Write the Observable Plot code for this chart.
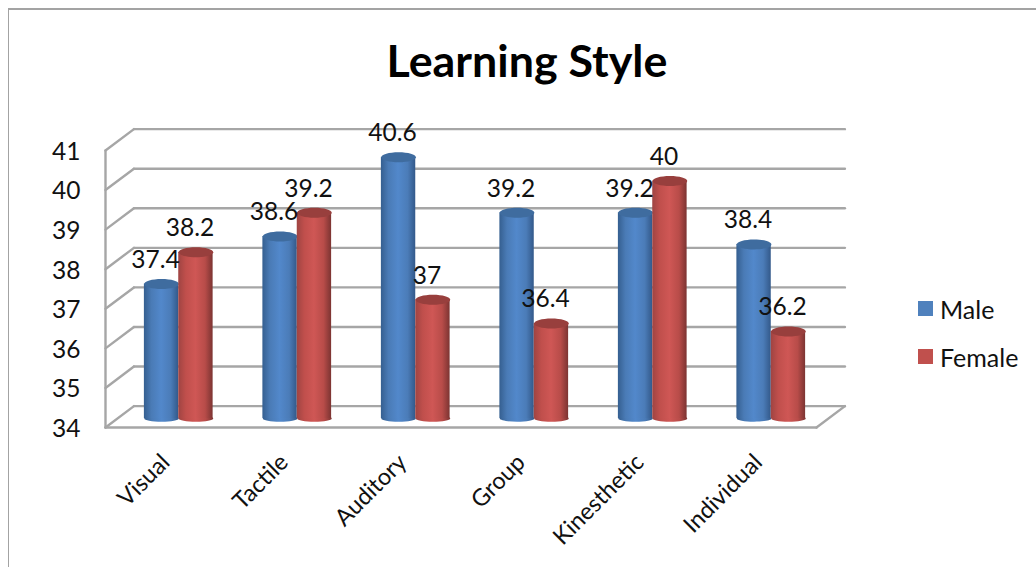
<!DOCTYPE html>
<html>
<head>
<meta charset="utf-8">
<script src="https://cdn.jsdelivr.net/npm/d3@7"></script>
<script src="https://cdn.jsdelivr.net/npm/@observablehq/plot@0.6"></script>
<style>
  html, body { margin: 0; padding: 0; background: #fff; overflow: hidden; font-family: Lato, sans-serif; color: #111; }
  #page { position: relative; width: 1036px; height: 567px; }
  #edge { position: absolute; left: 8px; top: 8px; right: 0; bottom: 0; border-left: 1.5px solid #a3a3a3; border-top: 2px solid #a3a3a3; }
  #title { position: absolute; left: 0; width: 1054px; top: 35px; text-align: center; font-size: 44.8px; font-weight: 700; line-height: 50px; color: #000; }
  #chart { position: absolute; left: 0; top: 0; }
  .key { position: absolute; left: 918px; font-size: 25px; line-height: 28px; height: 28px; }
  .key i { position: absolute; left: 0; top: 6px; width: 15px; height: 15px; }
  .key span { position: absolute; left: 22px; top: 0; }
</style>
</head>
<body>
<div id="page">
  <div id="edge"></div>
  <div id="chart"></div>
  <div id="title">Learning Style</div>
  <div class="key" style="top:295px"><i style="background:#4f81bd"></i><span>Male</span></div>
  <div class="key" style="top:343px"><i style="background:#c0504d"></i><span>Female</span></div>
</div>
<script>
const categories = ["Visual", "Tactile", "Auditory", "Group", "Kinesthetic", "Individual"];
const male = [37.4, 38.6, 40.6, 39.2, 39.2, 38.4];
const female = [38.2, 39.2, 37, 36.4, 40, 36.2];
const yTicks = [34, 35, 36, 37, 38, 39, 40, 41];

// Oblique depth of the 3D box, in data units of each scale
const depthX = 0.24, depthY = 0.54;
const barW = 0.29;

const ellipse = (rx, ry) => ({
  draw(c) {
    const k = 0.5523;
    c.moveTo(-rx, 0);
    c.bezierCurveTo(-rx, -ry * k, -rx * k, -ry, 0, -ry);
    c.bezierCurveTo(rx * k, -ry, rx, -ry * k, rx, 0);
    c.bezierCurveTo(rx, ry * k, rx * k, ry, 0, ry);
    c.bezierCurveTo(-rx * k, ry, -rx, ry * k, -rx, 0);
    c.closePath();
  }
});

const cylinders = (values, offset, body, cap) => {
  const rows = values.map((v, i) => ({v, i, c: i + 0.5 + offset}));
  const bar = {dx: 14, dy: -9};
  return [
    Plot.dot(rows, {x: "c", y: () => 34, r: 1, symbol: ellipse(17.3, 3.2), fill: `url(#${body})`, ...bar}),
    Plot.rect(rows, {x1: d => d.c - barW / 2, x2: d => d.c + barW / 2, y1: () => 34, y2: "v", fill: `url(#${body})`, ...bar}),
    Plot.dot(rows, {x: "c", y: "v", r: 1, symbol: ellipse(17.3, 5), fill: cap, ...bar})
  ];
};

const valueLabels = (values, offset) => Plot.text(values, {
  x: (v, i) => i + 0.5 + offset, y: v => v, text: v => String(v),
  dx: 8, dy: -33, fontSize: 24.5, fill: "#111"
});

const wall = {stroke: "#a6a6a6", strokeWidth: 2.4, strokeLinecap: "round"};

const chart = Plot.plot({
  width: 1036, height: 567,
  marginLeft: 105, marginRight: 220, marginTop: 150, marginBottom: 140,
  style: {background: "transparent", fontFamily: "Lato, sans-serif", color: "#111", overflow: "visible"},
  x: {domain: [0, 6], axis: null},
  y: {domain: [34, 41], ticks: yTicks, axis: null},
  marks: [
    // back wall
    Plot.link(yTicks, {x1: () => depthX, x2: () => 6 + depthX, y1: v => v + depthY, y2: v => v + depthY, ...wall}),
    // side wall
    Plot.link(yTicks, {x1: () => 0, x2: () => depthX, y1: v => v, y2: v => v + depthY, ...wall}),
    Plot.link([0], {x1: () => 0, x2: () => 0, y1: () => 34, y2: () => 41, ...wall}),
    // floor
    Plot.link([0], {x1: () => 0, x2: () => 6, y1: () => 34, y2: () => 34, ...wall}),
    Plot.link([0], {x1: () => 6, x2: () => 6 + depthX, y1: () => 34, y2: () => 34 + depthY, ...wall}),
    Plot.axisY({ticks: yTicks, tickFormat: "d", tickSize: 0, tickPadding: 25, fontSize: 24.5, label: null, dy: 1.5, fill: "#111"}),
    Plot.text(categories, {
      x: (d, i) => i + 0.5, y: () => 34, text: d => d, rotate: -45, textAnchor: "end",
      dx: 1, dy: 31, fontSize: 23.5, fill: "#111"
    }),
    ...cylinders(male, -barW / 2, "gBlue", "#3f6c9f"),
    ...cylinders(female, barW / 2, "gRed", "#983f3d"),
    valueLabels(male, -barW / 2),
    valueLabels(female, barW / 2)
  ]
});

const defs = d3.select(chart).insert("defs", ":first-child");
const gradient = (id, stops) => {
  const g = defs.append("linearGradient").attr("id", id).attr("x1", 0).attr("x2", 1).attr("y1", 0).attr("y2", 0);
  stops.forEach(([o, c]) => g.append("stop").attr("offset", o).attr("stop-color", c));
};
gradient("gBlue", [[0, "#355f90"], [0.22, "#4a7bb6"], [0.5, "#5288cb"], [0.78, "#4b7cb8"], [1, "#33598a"]]);
gradient("gRed", [[0, "#9f4442"], [0.22, "#c04f4c"], [0.5, "#cf5755"], [0.78, "#b84c49"], [1, "#7c3432"]]);

document.getElementById("chart").appendChild(chart);
</script>
</body>
</html>
